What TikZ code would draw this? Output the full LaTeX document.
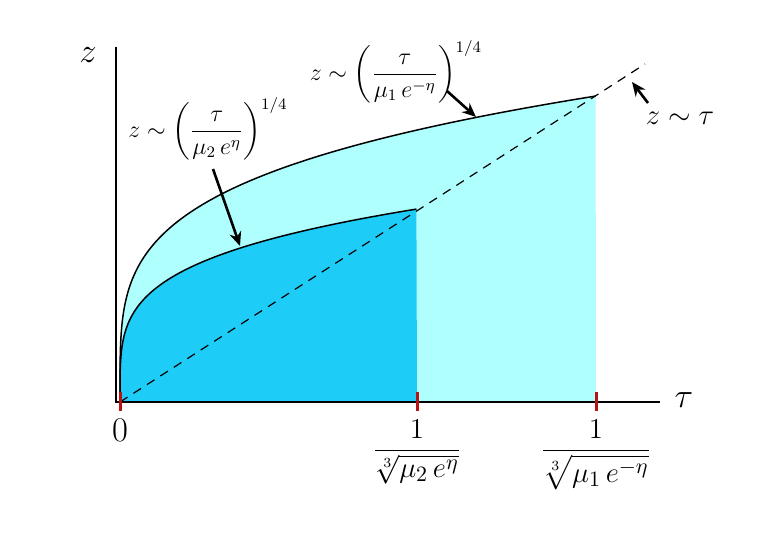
\documentclass[tikz,border=0pt]{standalone}
\usepackage{amsmath}
\usetikzlibrary{arrows.meta}
\definecolor{lightc}{RGB}{175,255,255}
\definecolor{darkc}{RGB}{30,204,248}
\definecolor{tickred}{RGB}{180,20,20}
\begin{document}
\begin{tikzpicture}[x=0.5pt,y=-0.5pt,
  axis/.style={line width=1pt},
  curve/.style={line width=0.75pt},
  guide/.style={line width=0.6pt, dash pattern=on 4.5pt off 3.5pt},
  tickmark/.style={tickred, line width=1.5pt},
  pointer/.style={line width=1.3pt, -{Stealth[length=7pt,width=6pt]}},
  lbl/.style={inner sep=0pt}]
\useasboundingbox (0,0) rectangle (771,545);
% named points
\coordinate (O) at (120,402);
\coordinate (P2) at (417,209);
\coordinate (P1) at (596,96);
\coordinate (B2) at (417,402);
\coordinate (B1) at (596,402);
\coordinate (Dend) at (645,64);
\coordinate (Ytop) at (116,47);
\coordinate (Xcorner) at (116,402);
\coordinate (Xend) at (660,402);
% fills
\fill[lightc] (O) -- plot[domain=0:4.6709, samples=150, variable=\s] ({120+\s*\s*\s*\s},{402-65.51*\s}) -- (B1) -- cycle;
\fill[darkc] (O) -- plot[domain=0:4.1514, samples=150, variable=\s] ({120+\s*\s*\s*\s},{402-46.49*\s}) -- (B2) -- cycle;
% curves
\draw[curve] plot[domain=0:4.6709, samples=150, variable=\s] ({120+\s*\s*\s*\s},{402-65.51*\s});
\draw[curve] plot[domain=0:4.1514, samples=150, variable=\s] ({120+\s*\s*\s*\s},{402-46.49*\s});
% dashed z ~ tau
\draw[guide] (O) -- (Dend);
% axes
\draw[axis] (Ytop) -- (Xcorner) -- (Xend);
% ticks
\draw[tickmark] (120,392) -- (120,411);
\draw[tickmark] (417,392) -- (417,411);
\draw[tickmark] (596,392) -- (596,411);
% axis labels
\node[lbl] (zlab) at (88,55) {\LARGE $z$};
\node[lbl] (taulab) at (684,400) {\LARGE $\tau$};
\node[lbl] (zero) at (120,430) {\LARGE $0$};
\node[lbl] (t2) at (417,452) {\fontsize{15}{17}\selectfont $\dfrac{1}{\sqrt[3]{\mu_2\,e^{\eta}}}$};
\node[lbl] (t1) at (596,455) {\fontsize{15}{17}\selectfont $\dfrac{1}{\sqrt[3]{\mu_1\,e^{-\eta}}}$};
% annotations
\node[lbl] (inner) at (208,129) {\large $z\sim\left(\dfrac{\tau}{\mu_2\,e^{\eta}}\right)^{1/4}$};
\node[lbl] (outer) at (396,72) {\large $z\sim\left(\dfrac{\tau}{\mu_1\,e^{-\eta}}\right)^{1/4}$};
\node[lbl] (lin) at (680,118) {\Large $z\sim\tau$};
% pointers
\coordinate (a2s) at (213,169);
\coordinate (a2e) at (240,246);
\coordinate (a1s) at (447,91);
\coordinate (a1e) at (476,117);
\coordinate (a3s) at (648,103);
\coordinate (a3e) at (632,82);
\draw[pointer] (a2s) -- (a2e);
\draw[pointer] (a1s) -- (a1e);
\draw[pointer] (a3s) -- (a3e);
\end{tikzpicture}
\end{document}
